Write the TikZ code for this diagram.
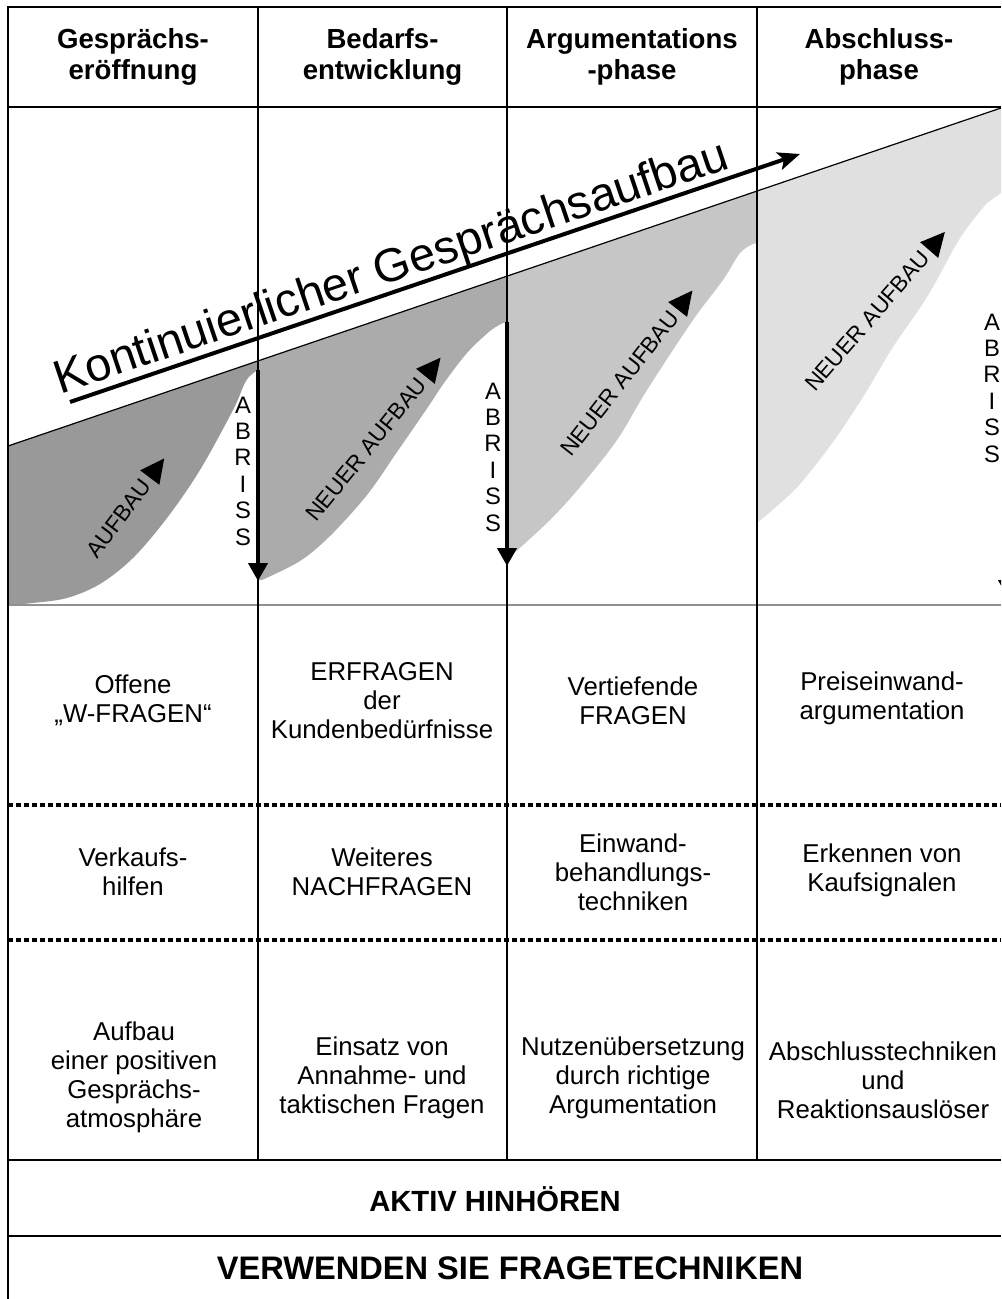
\documentclass[tikz,border=0pt]{standalone}
\usepackage{fontspec}
\setmainfont{Liberation Sans}
\usetikzlibrary{arrows.meta}
\definecolor{cA}{HTML}{999999}
\definecolor{cB}{HTML}{ABABAB}
\definecolor{cC}{HTML}{C6C6C6}
\definecolor{cD}{HTML}{E0E0E0}
\definecolor{baseg}{HTML}{909090}
\begin{document}
\begin{tikzpicture}[x=0.5pt,y=-0.5pt,
  hdr/.style={font=\fontsize{13.8}{15.5}\selectfont\bfseries, align=center, inner sep=0pt},
  cell/.style={font=\fontsize{12.9}{14.5}\selectfont, align=center, inner sep=0pt},
  foot/.style={font=\bfseries, inner sep=0pt},
  frame/.style={line width=0.75pt},
  dotsep/.style={line width=1.6pt, dash pattern=on 2.5pt off 1.5pt},
  lbl/.style={font=\fontsize{11.3}{13}\selectfont, inner sep=0pt, anchor=east},
  abr/.style={font=\fontsize{11.9}{13.2}\selectfont, align=center, inner sep=0pt},
  abrarrow/.style={line width=2pt, -{Triangle[length=9pt,width=9.5pt]}},
  mainarrow/.style={line width=2pt, -{Stealth[length=11pt,width=9pt,inset=2.5pt]}},
  tri/.style={fill=black}
]
\useasboundingbox (0,0) rectangle (1001,1299);
\fill[white] (0,0) rectangle (1001,1299);
\clip (0,0) rectangle (1001,1299);

% shaded regions
\fill[cA] (8,446) -- (258,361) -- (258,370) -- plot[smooth,tension=0.55] coordinates {(256,371) (248,378) (243,387) (233,410) (200,470) (167,518) (133,558) (100,584) (67,598) (33,603) (10,605)} -- (8,605) -- cycle;
\fill[cB] (258,361) -- (507,276) -- (507,322) -- plot[smooth,tension=0.55] coordinates {(503,323) (490,331) (467,353) (444,383) (428,407) (397,452) (367,495) (330,536) (300,561) (262,580)} -- (258,580) -- cycle;
\fill[cC] (507,276) -- (757,191) -- (757,243) -- plot[smooth,tension=0.55] coordinates {(753,244) (740,253) (723,280) (693,320) (647,390) (617,440) (580,487) (550,520) (512,555)} -- (507,560) -- cycle;
\fill[cD] (757,191) -- (1001,108) -- (1001,193) -- plot[smooth,tension=0.55] coordinates {(987,203) (973,220) (957,243) (927,297) (893,347) (863,397) (833,442) (800,484) (777,506) (758,522)} -- (757,522) -- cycle;

% slope line and baseline of graph
\draw[line width=0.6pt] (8,446) -- (1001,108);
\draw[baseg, line width=0.75pt] (8,605) -- (1001,605);

% frame
\draw[frame] (1001,7) -- (8,7) -- (8,1299);
\draw[frame] (8,107) -- (1001,107);
\draw[frame] (258,7) -- (258,1160);
\draw[frame] (507,7) -- (507,1160);
\draw[frame] (757,7) -- (757,1160);
\draw[frame] (8,1160) -- (1001,1160);
\draw[frame] (8,1236) -- (1001,1236);
\draw[dotsep] (8,805) -- (1001,805);
\draw[dotsep] (8,940) -- (1001,940);

% headers
\node[hdr] (h1) at (133,57) {Gesprächs-\\eröffnung};
\node[hdr] (h2) at (382.5,57) {Bedarfs-\\entwicklung};
\node[hdr] (h3) at (632,57) {Argumentations\\-phase};
\node[hdr] (h4) at (879,57) {Abschluss-\\phase};

% main arrow and label
\coordinate (ks) at (70,402);
\coordinate (ke) at (800,154);
\draw[mainarrow] (ks) -- (ke);
\node[font=\fontsize{23.5}{26}\selectfont, inner sep=0pt, rotate=18.67, anchor=base] (kt) at (396,281) {Kontinuierlicher Gesprächsaufbau};

% ABRISS arrows
\coordinate (a1s) at (258,370);
\coordinate (a1e) at (258,581);
\draw[abrarrow] (a1s) -- (a1e);
\coordinate (a2s) at (507,322);
\coordinate (a2e) at (507,566);
\draw[abrarrow] (a2s) -- (a2e);
\coordinate (a3s) at (1008,200);
\coordinate (a3e) at (1008,598);
\draw[abrarrow] (a3s) -- (a3e);

\node[abr] (ab1) at (243,471) {A\\B\\R\\I\\S\\S};
\node[abr] (ab2) at (493,457) {A\\B\\R\\I\\S\\S};
\node[abr] (ab3) at (992,388) {A\\B\\R\\I\\S\\S};

% build-up labels with direction triangles
\node[lbl, rotate=53] (l1) at (146.8,481.6) {AUFBAU};
\fill[tri, shift={(157,468)}, rotate=53] (-12,-12) -- (12,0) -- (-12,12) -- cycle;
\node[lbl, rotate=51] (l2) at (422.3,380.2) {NEUER AUFBAU};
\fill[tri, shift={(433,367)}, rotate=51] (-12,-12) -- (12,0) -- (-12,12) -- cycle;
\node[lbl, rotate=52] (l3) at (674.5,313.4) {NEUER AUFBAU};
\fill[tri, shift={(685,300)}, rotate=52] (-12,-12) -- (12,0) -- (-12,12) -- cycle;
\node[lbl, rotate=49] (l4) at (925.8,253.8) {NEUER AUFBAU};
\fill[tri, shift={(937,241)}, rotate=49] (-12,-12) -- (12,0) -- (-12,12) -- cycle;

% cells
\node[cell] (c11) at (133,700) {Offene\\„W-FRAGEN“};
\node[cell] (c12) at (382,701) {ERFRAGEN\\der\\Kundenbedürfnisse};
\node[cell] (c13) at (633,701) {Vertiefende\\FRAGEN};
\node[cell] (c14) at (882,698) {Preiseinwand-\\argumentation};
\node[cell] (c21) at (133,872) {Verkaufs-\\hilfen};
\node[cell] (c22) at (382,872) {Weiteres\\NACHFRAGEN};
\node[cell] (c23) at (633,872) {Einwand-\\behandlungs-\\techniken};
\node[cell] (c24) at (882,870) {Erkennen von\\Kaufsignalen};
\node[cell] (c31) at (134,1077) {Aufbau\\einer positiven\\Gesprächs-\\atmosphäre};
\node[cell] (c32) at (382,1078) {Einsatz von\\Annahme- und\\taktischen Fragen};
\node[cell] (c33) at (633,1078) {Nutzenübersetzung\\durch richtige\\Argumentation};
\node[cell] (c34) at (883,1080) {Abschlusstechniken\\und\\Reaktionsauslöser};

% footer
\node[foot, font=\fontsize{14.6}{16}\selectfont\bfseries] (f1) at (495,1199) {AKTIV HINHÖREN};
\node[foot, font=\fontsize{16.3}{18}\selectfont\bfseries] (f2) at (510,1268) {VERWENDEN SIE FRAGETECHNIKEN};
\end{tikzpicture}
\end{document}
